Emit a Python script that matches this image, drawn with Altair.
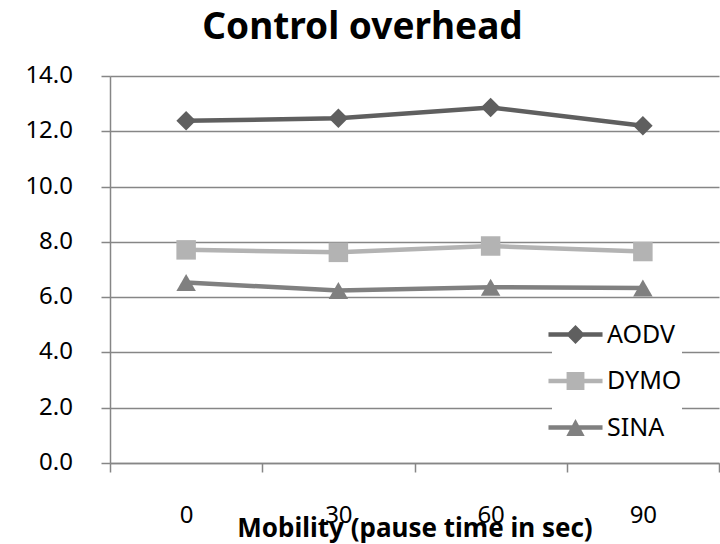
import altair as alt
import pandas as pd

pause = ["0", "30", "60", "90"]
aodv = [12.38, 12.47, 12.86, 12.20]
dymo = [7.71, 7.62, 7.85, 7.65]
sina = [6.53, 6.24, 6.36, 6.33]
series = ["AODV", "DYMO", "SINA"]
colors = ["#5f5f5f", "#b3b3b3", "#808080"]
shapes = ["diamond", "square", "triangle-up"]
y_ticks = [0, 2, 4, 6, 8, 10, 12, 14]

rows = []
for name, vals in zip(series, [aodv, dymo, sina]):
    for p, v in zip(pause, vals):
        rows.append({"pause": p, "value": v, "series": name})
df = pd.DataFrame(rows)
tick_df = pd.DataFrame({"value": y_ticks})

FONT = "Noto Sans"
GRID = "#868686"

# legend glyphs: line segment + marker, in legend symbol units
line_part = "M-1.15,-0.094L1.15,-0.094L1.15,0.094L-1.15,0.094Z"
glyphs = [
    line_part + "M0,-0.40L0.40,0L0,0.40L-0.40,0Z",
    line_part + "M-0.38,-0.38L0.38,-0.38L0.38,0.38L-0.38,0.38Z",
    line_part + "M0,-0.36L0.39,0.36L-0.39,0.36Z",
]

x_enc = alt.X(
    "pause:O",
    sort=pause,
    bandPosition=0.5,
    scale=alt.Scale(type="band", paddingInner=0, paddingOuter=0),
    axis=alt.Axis(
        title="Mobility (pause time in sec)",
        titleFont=FONT, titleFontSize=26, titleFontWeight="bold", titleColor="black",
        titleBaseline="alphabetic", titleY=73,
        labelFont=FONT, labelFontSize=24, labelColor="black", labelAngle=0,
        labelPadding=31,
        tickBand="extent", tickSize=9, tickColor=GRID, tickWidth=1.5,
        domainColor=GRID, domainWidth=1.5, grid=False,
    ),
)
y_enc = alt.Y(
    "value:Q",
    scale=alt.Scale(domain=[0, 14], nice=False, zero=True),
    axis=alt.Axis(
        title=None, values=y_ticks, labels=False,
        tickSize=9, tickColor=GRID, tickWidth=1.5,
        domainColor=GRID, domainWidth=1.5,
        grid=True, gridColor=GRID, gridWidth=1.5,
    ),
)
color_scale = alt.Scale(domain=series, range=colors)

legend_params = dict(
    title=None, orient="none", legendX=442, legendY=235,
    labelFont=FONT, labelFontSize=25, labelColor="black", labelOffset=8,
    symbolSize=2209, rowPadding=9.5, padding=0,
    fillColor="white", symbolOpacity=1, symbolStrokeWidth=0,
)

# y tick labels, placed on the y scale, set well left of the tick marks
y_labels = alt.Chart(tick_df).mark_text(
    align="right", baseline="middle", font=FONT, fontSize=24, color="black"
).encode(
    y=y_enc,
    x=alt.value(-37),
    text=alt.Text("value:Q", format=".1f"),
)

lines = alt.Chart(df).mark_line(strokeWidth=4.5).encode(
    x=x_enc, y=y_enc,
    color=alt.Color("series:N", sort=series, scale=color_scale, legend=None),
)

point_layers = []
for name, shp in zip(series, shapes):
    point_layers.append(
        alt.Chart(df).transform_filter(alt.datum.series == name)
        .mark_point(filled=True, size=380, opacity=1, shape=shp)
        .encode(
            x=x_enc, y=y_enc,
            color=alt.Color("series:N", sort=series, scale=color_scale, legend=None),
        )
    )

legend_layer = alt.Chart(df).mark_point(filled=True, size=1, opacity=1).encode(
    x=x_enc, y=y_enc,
    color=alt.Color("series:N", sort=series, scale=color_scale,
                    legend=alt.Legend(**legend_params)),
    shape=alt.Shape("series:N", sort=series,
                    scale=alt.Scale(domain=series, range=glyphs),
                    legend=alt.Legend(**legend_params)),
)

chart = alt.layer(legend_layer, lines, *point_layers, y_labels).properties(
    width=609, height=387,
    title=alt.TitleParams(
        "Control overhead", font=FONT, fontSize=37, fontWeight="bold", color="black",
        anchor="middle", dx=-52, offset=17,
    ),
    autosize=alt.AutoSizeParams(type="none"),
    padding={"left": 110, "top": 76, "right": 1, "bottom": 81},
).configure_view(stroke=None)

chart.save("out.html", embed_options={"renderer": "svg", "actions": False})
